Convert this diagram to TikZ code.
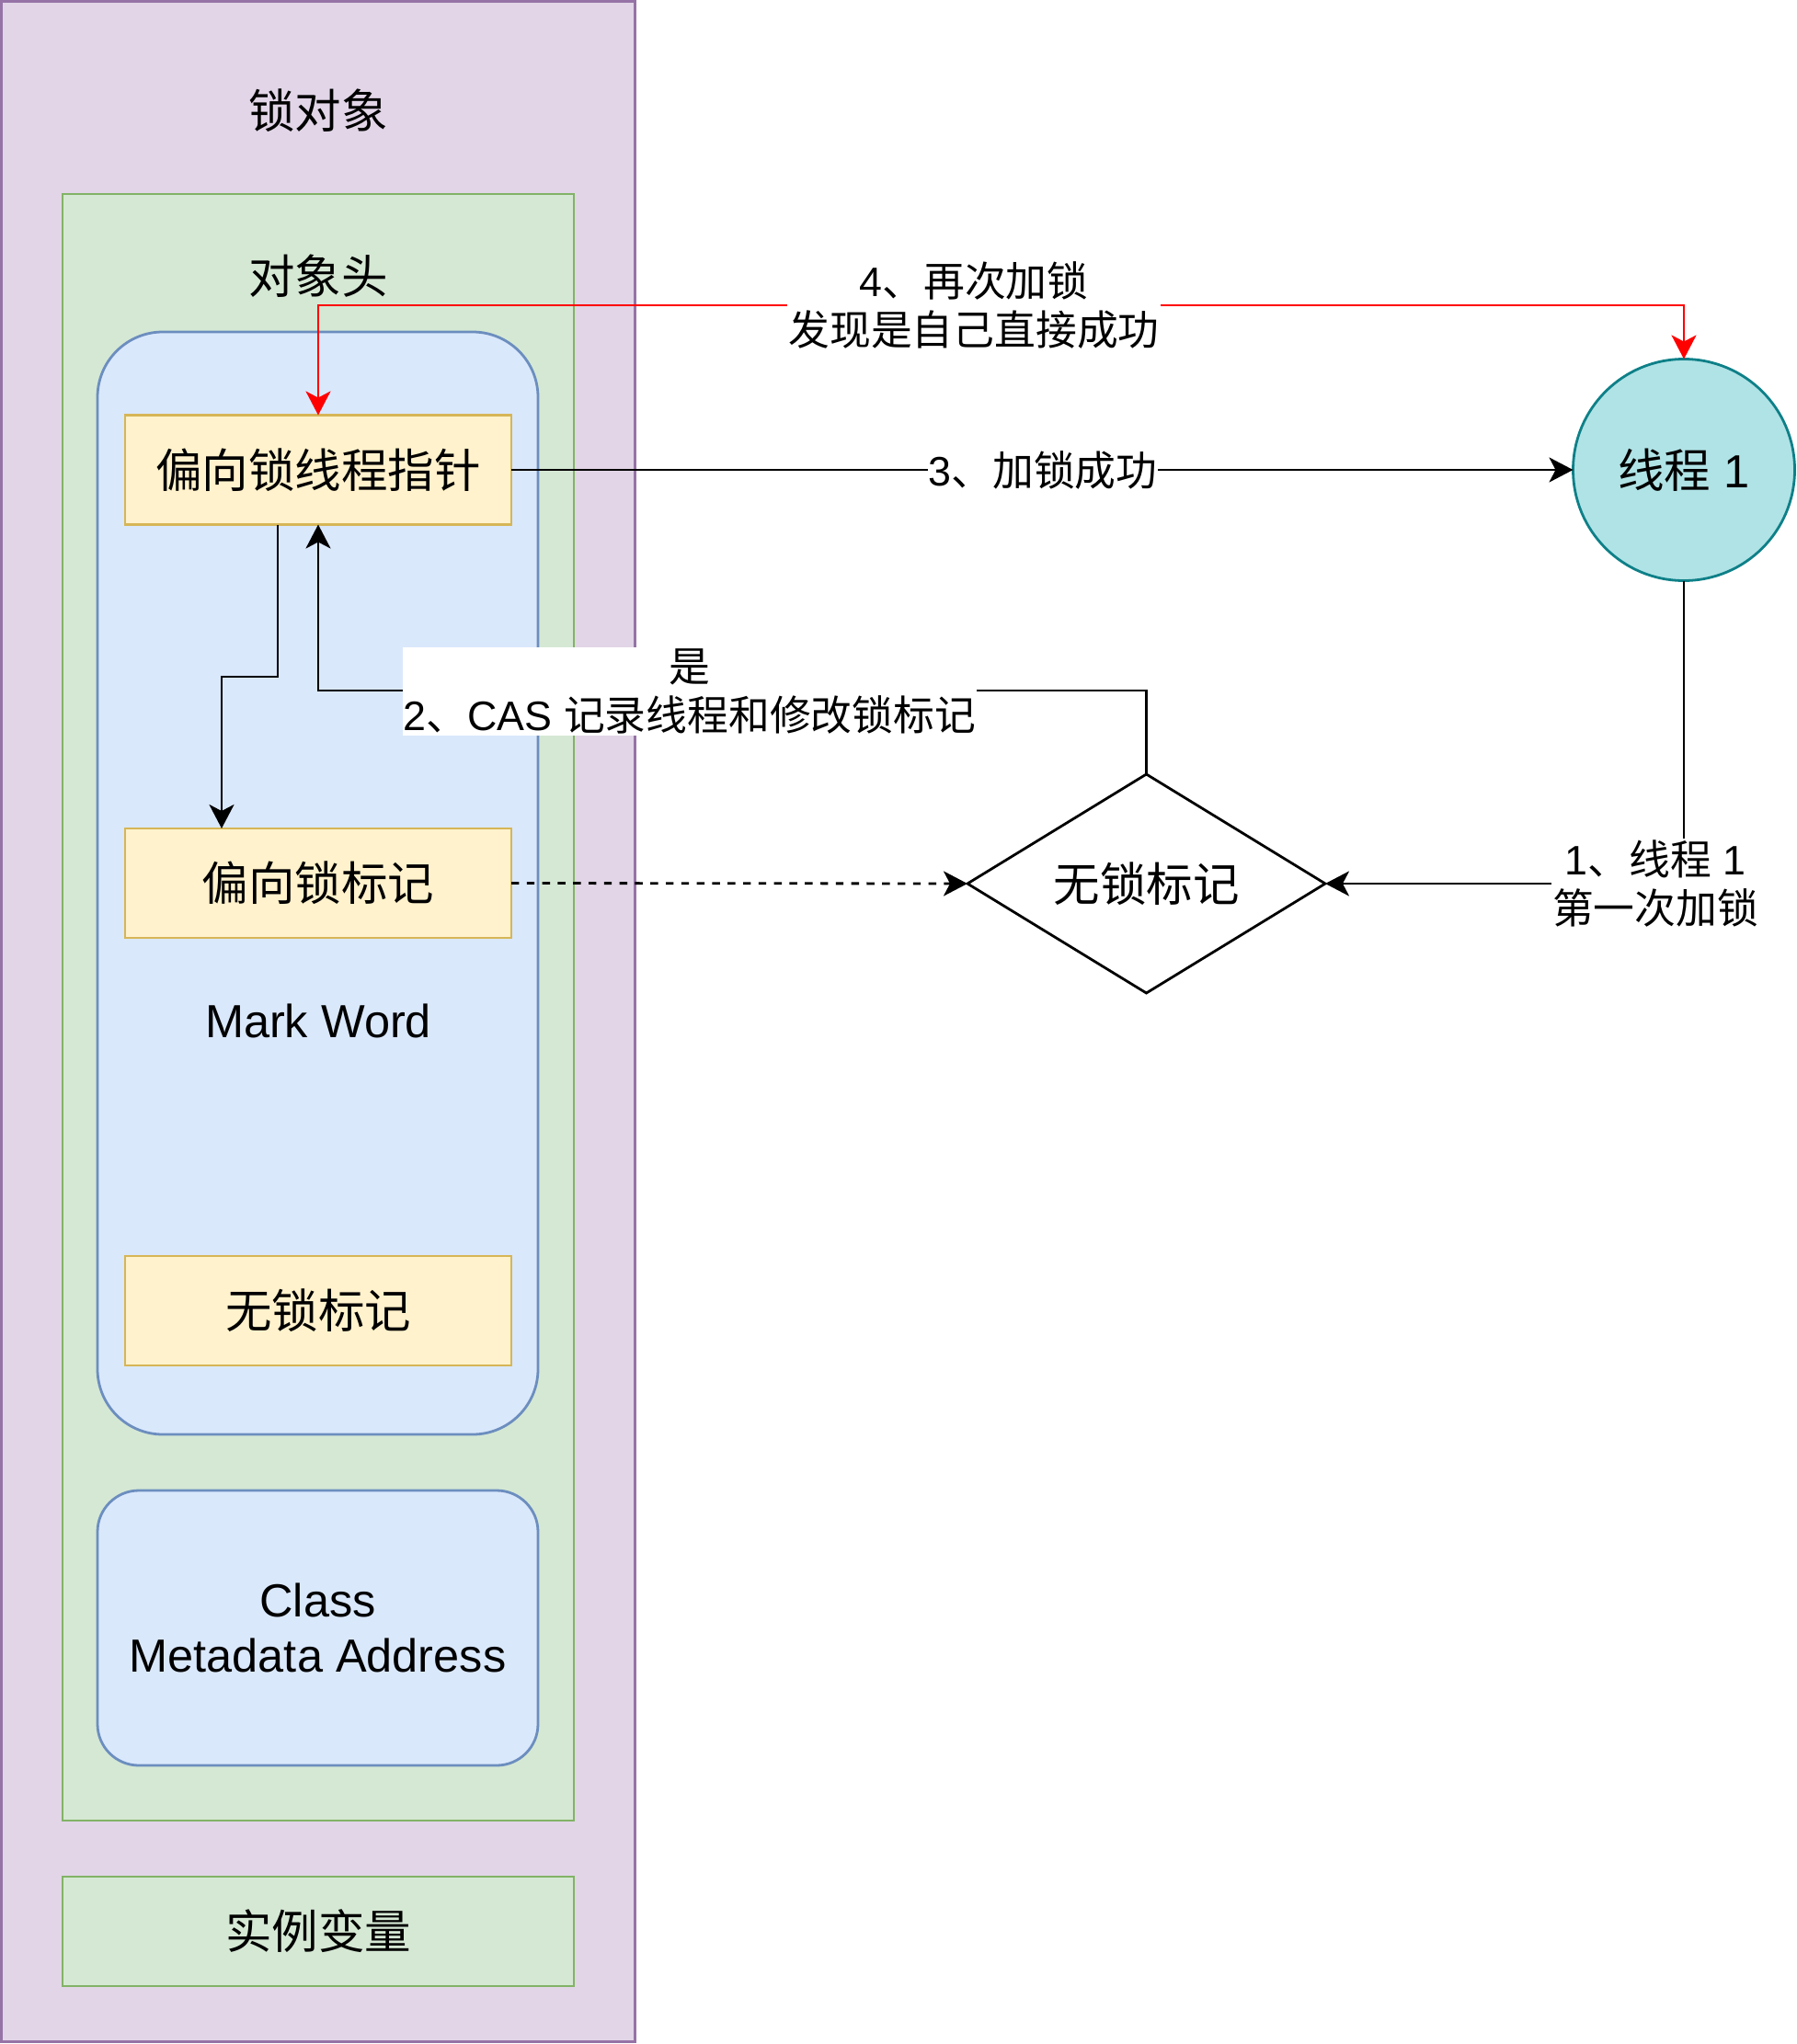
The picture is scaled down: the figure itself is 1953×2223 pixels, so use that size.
\documentclass[tikz,border=0pt]{standalone}
\usepackage{fontspec}
\setmainfont{Liberation Sans}
\newfontfamily\cjk{Noto Sans CJK SC}
\usetikzlibrary{arrows.meta,shapes.geometric,calc}
\newcommand\zh[1]{{\cjk #1}}
\newcommand\mainsz{\fontsize{50.5pt}{60.6pt}\selectfont}
\newcommand\labsz{\fontsize{44.8pt}{53.8pt}\selectfont}
\definecolor{pfill}{HTML}{E1D5E7}\definecolor{pline}{HTML}{9673A6}
\definecolor{gfill}{HTML}{D5E8D4}\definecolor{gline}{HTML}{82B366}
\definecolor{bfill}{HTML}{DAE8FC}\definecolor{bline}{HTML}{6C8EBF}
\definecolor{yfill}{HTML}{FFF2CC}\definecolor{yline}{HTML}{D6B656}
\definecolor{tfill}{HTML}{B0E3E6}\definecolor{tline}{HTML}{0E8088}
\begin{document}
\begin{tikzpicture}[x=1pt,y=-1pt,
  base/.style={draw,line width=2.8pt,inner sep=0pt,outer sep=0pt,font=\mainsz,align=center},
  pbox/.style={base,fill=pfill,draw=pline},
  gbox/.style={base,fill=gfill,draw=gline},
  bbox/.style={base,fill=bfill,draw=bline},
  ybox/.style={base,fill=yfill,draw=yline,minimum width=420pt,minimum height=119pt},
  txt/.style={inner sep=0pt,font=\mainsz,align=center},
  lab/.style={fill=white,inner sep=1pt,font=\labsz,align=center},
  conn/.style={line width=2.8pt,draw=black},
  arr/.style={conn,-{Stealth[length=26pt,width=27pt,inset=7pt]}},
  redarr/.style={line width=2.8pt,draw=red,{Stealth[length=26pt,width=27pt,inset=7pt,fill=red]}-{Stealth[length=26pt,width=27pt,inset=7pt,fill=red]}}
]
\useasboundingbox (0,0) rectangle (1953,2223);
% containers
\node[pbox,minimum width=689.2pt,minimum height=2218.2pt] (obj) at (346,1111) {};
\node[txt] (tobj) at (346,120) {\zh{锁对象}};
\node[gbox,minimum width=556pt,minimum height=1769pt] (hdr) at (346,1095.5) {};
\node[txt] (thdr) at (346,300) {\zh{对象头}};
\node[bbox,rounded corners=71pt,minimum width=479pt,minimum height=1199pt] (mw) at (345.5,960.5) {};
\node[txt] (tmw) at (346,1110) {Mark Word};
\node[ybox] (ptr) at (346,511) {\zh{偏向锁线程指针}};
\node[ybox] (bias) at (346,960.5) {\zh{偏向锁标记}};
\node[ybox] (nolk) at (346,1425.5) {\zh{无锁标记}};
\node[bbox,rounded corners=45pt,minimum width=479pt,minimum height=299pt] (cma) at (345.5,1770.5) {Class\\Metadata Address};
\node[gbox,minimum width=556pt,minimum height=119pt] (inst) at (346,2100.5) {\zh{实例变量}};
% right side
\node[base,circle,fill=tfill,draw=tline,minimum size=241pt] (t1) at (1831,511) {\zh{线程} 1};
\node[base,diamond,aspect=1.634,fill=white,draw=black,minimum width=389pt,minimum height=238pt] (dia) at (1246.5,961) {\zh{无锁标记}};
% helper coordinates
\coordinate (ry) at (0,332);
\coordinate (c4) at (0,751);
\coordinate (ptrout) at ($(ptr.south)+(-44,0)$);
\coordinate (m3) at (241,736);
\coordinate (biasin) at ($(bias.north)+(-105,0)$);
% connectors
\draw[redarr] (ptr.north) -- (ptr.north |- ry) -| (t1.north);
\draw[arr] (ptr.east) -- (t1.west);
\draw[arr] (ptrout) |- (m3) -- (biasin);
\draw[arr] (dia.north) -- (dia.north |- c4) -| (ptr.south);
\draw[arr,dash pattern=on 8.4pt off 8.4pt] (bias.east) -- (dia.west);
\draw[arr] (t1.south) |- (dia.east);
% labels
\node[lab] (l4) at (1059,332) {4\zh{、再次加锁}\\\zh{发现是自己直接成功}};
\node[lab] (l3) at (1134,511) {3\zh{、加锁成功}};
\node[lab] (l2) at (750,752) {\zh{是}\\2\zh{、}CAS \zh{记录线程和修改锁标记}};
\node[lab] (l1) at (1800,961) {1\zh{、线程} 1\\\zh{第一次加锁}};
\end{tikzpicture}
\end{document}
